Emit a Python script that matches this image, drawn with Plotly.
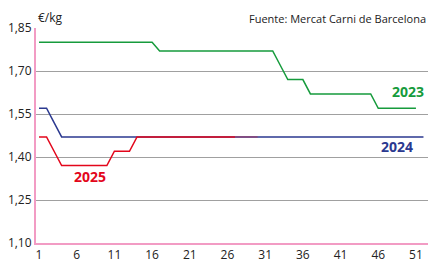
import plotly.graph_objects as go

weeks_2023 = list(range(1, 53))
vals_2023 = [1.80]*16 + [1.77]*16 + [1.72, 1.67, 1.67, 1.67] + [1.62]*9 + [1.57]*6
vals_2023 = vals_2023[:52]
weeks_2024 = list(range(1, 53))
vals_2024 = [1.57, 1.57, 1.52] + [1.47]*49
weeks_2025 = list(range(1, 28))
vals_2025 = [1.47, 1.47, 1.42, 1.37, 1.37, 1.37, 1.37, 1.37, 1.37, 1.37, 1.42, 1.42, 1.42] + [1.47]*14
weeks_2025_tail = [27, 28, 29, 30]
vals_2025_tail = [1.47, 1.47, 1.47, 1.47]

y_ticks = [1.10, 1.25, 1.40, 1.55, 1.70, 1.85]
y_ticktext = ["1,10", "1,25", "1,40", "1,55", "1,70", "1,85"]
x_ticks = [1, 6, 11, 16, 21, 26, 31, 36, 41, 46, 51]

GREEN = "#169b3c"
BLUE = "#2b3990"
RED = "#e3061b"
PINK = "#f29cc4"
FONT = "Open Sans"

fig = go.Figure()
fig.add_trace(go.Scatter(x=weeks_2023, y=vals_2023, mode="lines", line=dict(color=GREEN, width=1.5)))
fig.add_trace(go.Scatter(x=weeks_2024, y=vals_2024, mode="lines", line=dict(color=BLUE, width=1.5)))
fig.add_trace(go.Scatter(x=weeks_2025, y=vals_2025, mode="lines", line=dict(color=RED, width=1.5)))
fig.add_trace(go.Scatter(x=weeks_2025_tail, y=vals_2025_tail, mode="lines", line=dict(color=RED, width=1.5), opacity=0.35))

fig.update_layout(
    width=428, height=264,
    margin=dict(l=36, r=0, t=28, b=21),
    paper_bgcolor="white", plot_bgcolor="white",
    showlegend=False,
    font=dict(family=FONT, size=12, color="#222"),
    xaxis=dict(range=[0.6, 52.6], tickvals=x_ticks, showgrid=False, zeroline=False,
               showline=True, linecolor=PINK, linewidth=2, ticks="", tickfont=dict(size=12)),
    yaxis=dict(range=[1.10, 1.85], tickvals=y_ticks, ticktext=y_ticktext, showgrid=True,
               gridcolor="#a0a0a0", gridwidth=1, zeroline=False,
               showline=True, linecolor=PINK, linewidth=2, ticks="", tickfont=dict(size=12)),
    annotations=[
        dict(text="€/kg", xref="paper", yref="paper", x=0, y=1, xanchor="left", yanchor="bottom",
             showarrow=False, font=dict(size=12)),
        dict(text="Fuente: Mercat Carni de Barcelona", xref="paper", yref="paper", x=1, y=1,
             xanchor="right", yanchor="bottom", showarrow=False, font=dict(size=11)),
        dict(text="<b>2023</b>", x=49.9, y=1.63, xref="x", yref="y", showarrow=False,
             font=dict(size=14, color=GREEN)),
        dict(text="<b>2024</b>", x=48.5, y=1.435, xref="x", yref="y", showarrow=False,
             font=dict(size=14, color=BLUE)),
        dict(text="<b>2025</b>", x=7.7, y=1.332, xref="x", yref="y", showarrow=False,
             font=dict(size=14, color=RED)),
    ],
)

fig.write_html("out.html", config={"displayModeBar": False},
               post_script="document.body.style.margin='0';")
